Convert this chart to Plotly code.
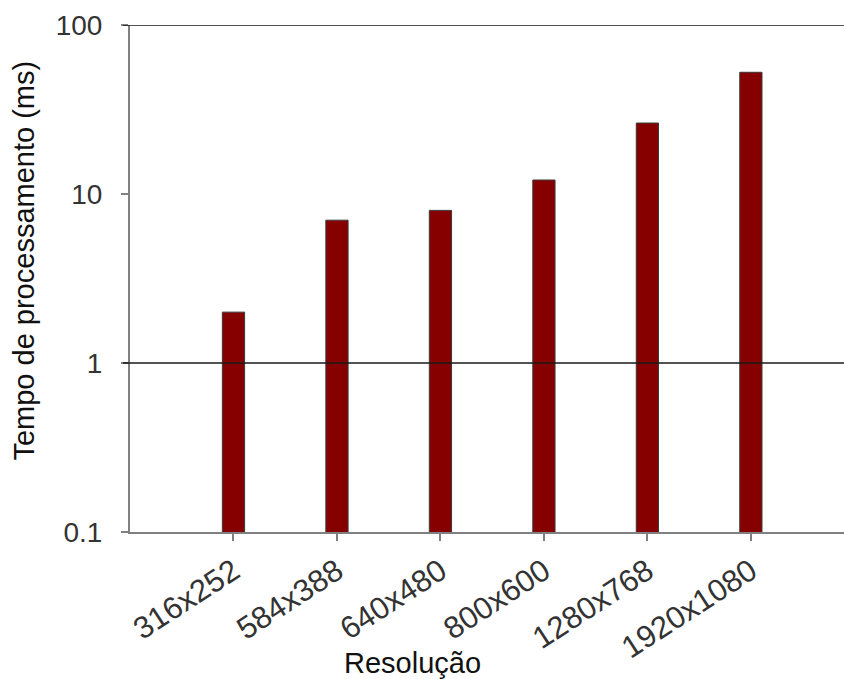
import plotly.graph_objects as go

categories = ["316x252", "584x388", "640x480", "800x600", "1280x768", "1920x1080"]
tempo_ms = [2.0, 7.0, 8.0, 12.1, 26.3, 52.5]
y_tickvals = [0.1, 1, 10, 100]
y_ticktext = ["0.1", "1", "10", "100"]
ref_lines = [1, 100]
x_title = "Resolução"
y_title = "Tempo de processamento (ms)"

FONT = "Liberation Sans, Arial, sans-serif"
x_pos = list(range(len(categories)))

fig = go.Figure()
fig.add_trace(go.Bar(
    x=x_pos, y=tempo_ms, width=0.215,
    marker=dict(color="#860000", line=dict(color="#3a3a3a", width=1)),
))

for v in ref_lines:
    fig.add_shape(type="line", xref="paper", yref="y",
                  x0=-0.0098, x1=1, y0=v, y1=v,
                  line=dict(color="#1a1a1a", width=1.5), layer="above")

fig.add_annotation(text=x_title, xref="paper", yref="paper", x=0.396, y=-0.258,
                   showarrow=False, font=dict(size=29, color="#111111"),
                   xanchor="center", yanchor="middle")
fig.add_annotation(text=y_title, xref="paper", yref="paper", x=-0.148, y=0.536,
                   showarrow=False, font=dict(size=29, color="#111111"), textangle=-90,
                   xanchor="center", yanchor="middle")

fig.update_layout(
    width=844, height=679,
    margin=dict(l=130, r=0, t=25, b=147),
    plot_bgcolor="white", paper_bgcolor="white",
    showlegend=False,
    font=dict(family=FONT, size=25, color="#333333"),
    xaxis=dict(
        tickmode="array", tickvals=x_pos, ticktext=categories,
        range=[-1.0, 5.9], tickangle=-33, automargin=False,
        showgrid=False, zeroline=False,
        showline=True, linecolor="#808080", linewidth=2,
        ticks="outside", ticklen=7, tickcolor="#808080", tickwidth=2,
        tickfont=dict(size=31, color="#333333"),
    ),
    yaxis=dict(
        type="log", range=[-1, 2], automargin=False,
        tickmode="array", tickvals=y_tickvals, ticktext=y_ticktext,
        showgrid=False, zeroline=False,
        showline=True, linecolor="#808080", linewidth=2,
        ticks="outside", ticklen=7, tickcolor="#808080", tickwidth=2,
        ticklabelstandoff=13,
        tickfont=dict(size=28, color="#333333"),
    ),
)

fig.write_html("out.html", config={"displayModeBar": False},
               post_script="document.body.style.margin='0';document.body.style.overflow='hidden';")
